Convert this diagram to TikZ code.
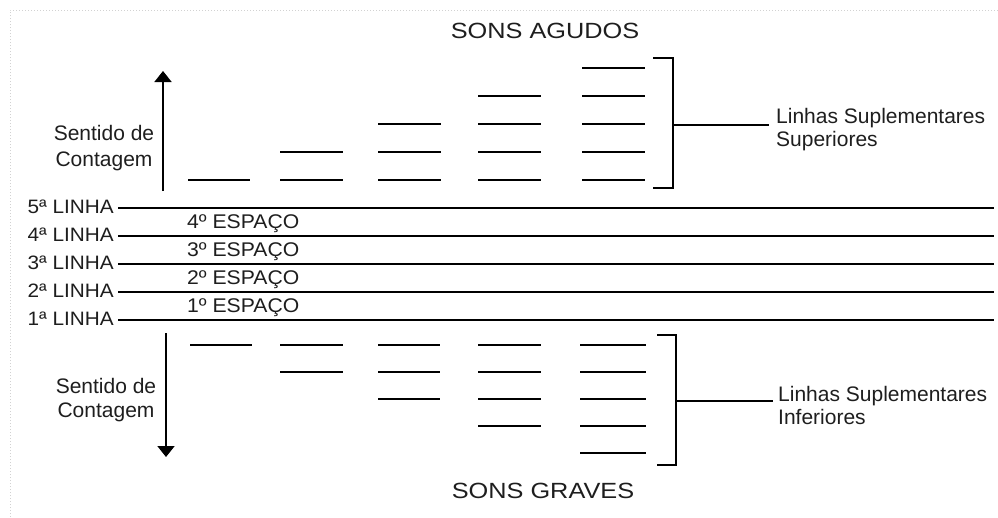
\documentclass[tikz,border=0pt]{standalone}
\usepackage{fontspec}
\setmainfont{Liberation Sans}
\newfontfamily\widefont[FakeStretch=1.15]{Liberation Sans}
\newfontfamily\midfont[FakeStretch=1.07]{Liberation Sans}
\usetikzlibrary{arrows.meta}
\definecolor{txt}{HTML}{1E1E1E}
\begin{document}
\begin{tikzpicture}[x=1pt,y=-1pt,
  staff/.style={line width=2.9pt},
  ledger/.style={line width=2.8pt},
  brk/.style={line width=2.9pt},
  lead/.style={line width=2pt},
  arr/.style={line width=1.9pt,-{Triangle[width=17pt,length=11pt]}},
  title/.style={font=\widefont\fontsize{22}{26}\selectfont, text=txt, inner sep=0pt},
  linlab/.style={font=\midfont\fontsize{19.4}{22}\selectfont, text=txt, inner sep=0pt, anchor=base east},
  esplab/.style={font=\midfont\fontsize{19.8}{22}\selectfont, text=txt, inner sep=0pt, anchor=base west},
  plain/.style={font=\fontsize{21}{25}\selectfont, text=txt, inner sep=0pt}
]
\useasboundingbox (0,0) rectangle (998,517);
% page border
\draw[gray!35, dotted, line width=1pt] (10,517) -- (10,10) -- (998,10);

% titles
\node[title, anchor=base] (agudos) at (545,38) {SONS AGUDOS};
\node[title, anchor=base] (graves) at (543,498) {SONS GRAVES};

% staff lines and labels
\foreach \n/\y in {1/320,2/292,3/264,4/236,5/208}{
  \node[linlab] (lin\n) at (114,\y+5) {\n ª LINHA};
  \coordinate (ls\n) at (118,\y);
  \coordinate (le\n) at (994,\y);
  \draw[staff] (ls\n) -- (le\n);
}
\foreach \n/\y in {1/306,2/278,3/250,4/222}{
  \node[esplab] (esp\n) at (187,\y+6.5) {\n º ESPAÇO};
}

% upper ledger lines
\foreach \xa/\xb/\k in {188/250/1,280/343/2,378/441/3,478/541/4,582/645/5}{
  \foreach \j in {1,...,\k}{
    \draw[ledger] (\xa,208-28*\j) -- (\xb,208-28*\j);
  }
}
% lower ledger lines
\foreach \xa/\xb/\k in {190/252/1,280/343/2,378/440/3,478/541/4,580/646/5}{
  \foreach \j in {1,...,\k}{
    \draw[ledger] (\xa,320+27*\j-2) -- (\xb,320+27*\j-2);
  }
}

% brackets
\draw[brk] (653,58) -- (673,58) -- (673,188) -- (653,188);
\coordinate (bu) at (673,125);
\node[plain, anchor=base west] (supA) at (776,123) {Linhas Suplementares};
\node[plain, anchor=base west] (supB) at (776,146) {Superiores};
\draw[lead, shorten >=7pt] (bu) -- (supA.west |- bu);

\draw[brk] (657,335) -- (676,335) -- (676,465) -- (657,465);
\coordinate (bl) at (676,401);
\node[plain, anchor=base west] (infA) at (778,401) {Linhas Suplementares};
\node[plain, anchor=base west] (infB) at (778,424) {Inferiores};
\draw[lead, shorten >=5pt] (bl) -- (infA.west |- bl);

% counting arrows
\coordinate (ua0) at (163,191);
\coordinate (ua1) at (163,71);
\draw[arr] (ua0) -- (ua1);
\node[plain, anchor=base] (sentU) at (104,140) {Sentido de};
\node[plain, anchor=base] (contU) at (104,166) {Contagem};

\coordinate (la0) at (166,333);
\coordinate (la1) at (166,457);
\draw[arr] (la0) -- (la1);
\node[plain, anchor=base] (sentL) at (106,393) {Sentido de};
\node[plain, anchor=base] (contL) at (106,417) {Contagem};
\end{tikzpicture}
\end{document}
